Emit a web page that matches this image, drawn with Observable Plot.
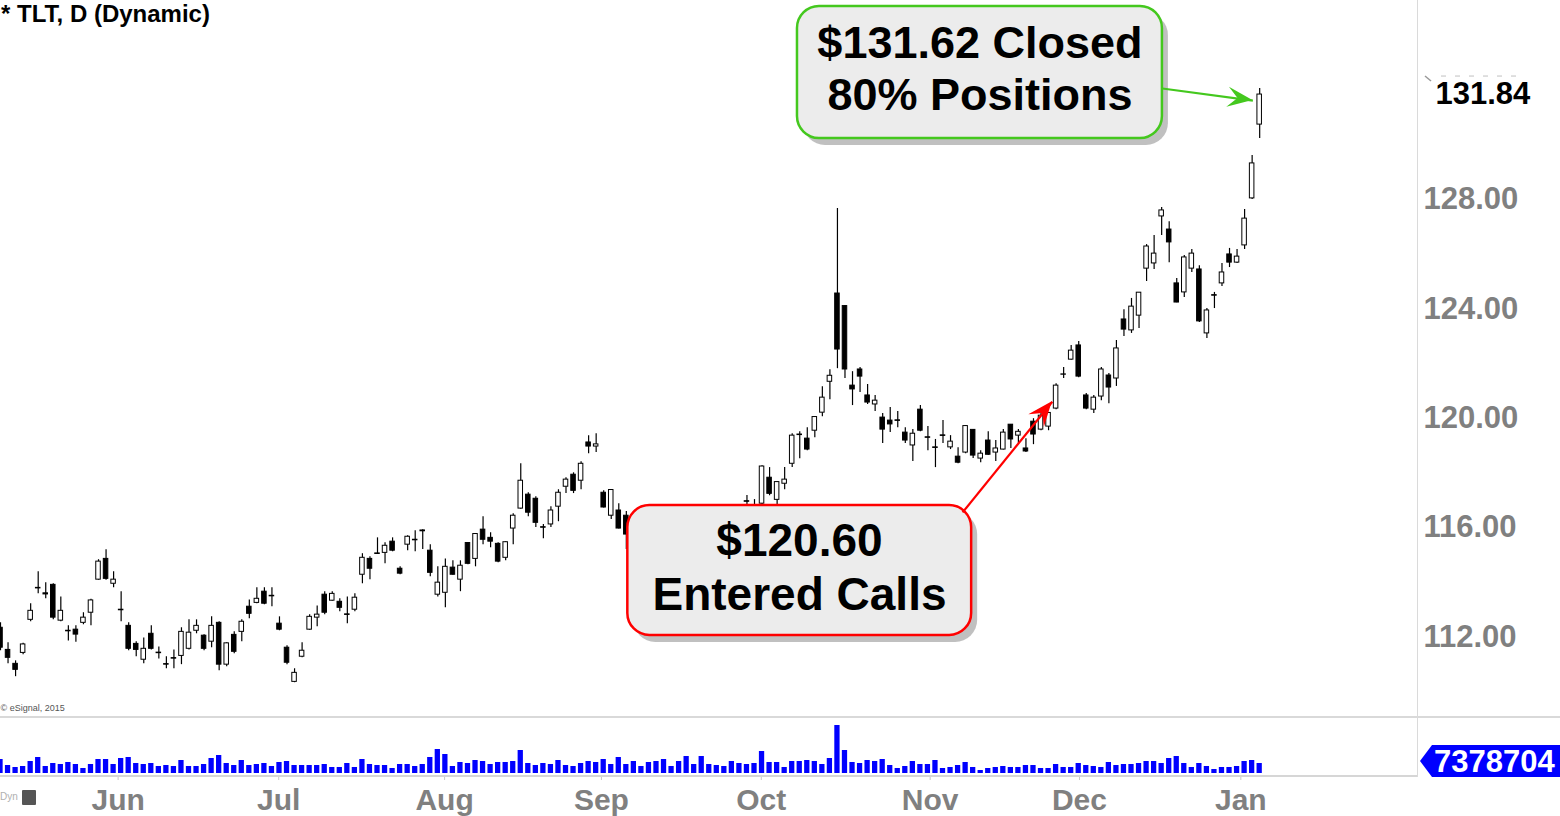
<!DOCTYPE html>
<html><head><meta charset="utf-8">
<script src="https://cdn.jsdelivr.net/npm/d3@7"></script>
<script src="https://cdn.jsdelivr.net/npm/@observablehq/plot@0.6"></script>
<style>
html,body{margin:0;padding:0;background:#fff;}
#wrap{position:relative;width:1560px;height:816px;overflow:hidden;font-family:"Liberation Sans",Arial,sans-serif;background:#fff;}
#wrap svg{position:absolute;left:0;}
</style></head><body><div id="wrap"></div>
<script>
// ---- data (daily candles, index 0..167) ----
const openP = [
112.33,111.52,111.01,111.41,112.62,113.79,113.59,113.90,112.59,112.22,
112.26,112.51,112.88,114.09,114.85,113.94,112.99,112.40,111.74,111.16,
112.11,111.42,111.00,111.22,111.30,111.56,112.22,112.04,111.82,112.51,
110.98,112.07,112.18,113.10,113.24,113.65,113.50,112.48,111.60,110.35,
111.27,112.26,112.70,113.54,113.32,113.28,112.82,112.99,114.27,114.85,
115.05,115.07,115.48,114.49,115.37,115.55,115.89,115.15,113.54,113.61,
114.53,114.09,115.43,114.85,115.92,115.62,115.40,114.89,115.96,116.69,
117.20,117.05,116.01,116.11,116.76,117.49,117.93,117.71,119.11,118.96,
117.27,116.43,116.62,116.43,116.39,115.30,114.90,114.50,114.70,114.10,
113.60,113.20,113.60,113.00,113.50,114.20,114.00,114.80,115.20,116.96,
116.60,116.87,117.82,117.01,117.60,118.33,119.40,119.25,119.54,120.20,
121.33,124.56,124.10,121.19,121.78,120.83,120.50,120.02,119.91,119.92,
119.47,119.00,120.31,119.30,118.93,119.37,118.93,118.59,118.74,119.57,
118.52,119.18,118.74,118.85,119.76,119.36,118.89,119.87,119.58,119.69,
120.35,121.60,122.14,122.66,120.83,120.31,120.79,121.56,121.45,123.61,
123.21,123.75,125.47,125.66,127.38,126.90,124.93,124.60,125.47,125.44,
123.10,124.50,124.93,125.99,125.69,126.32,128.04,130.74];
const highP = [
112.51,111.78,111.12,111.76,113.21,114.38,113.98,113.94,113.46,112.40,
112.40,112.88,113.37,114.82,115.18,114.38,113.65,112.51,111.82,111.96,
112.40,111.63,111.27,111.52,112.33,112.62,112.62,112.07,112.73,112.55,
111.78,112.18,112.62,113.35,113.79,113.79,113.79,112.73,111.67,110.83,
111.78,112.81,113.13,113.65,113.65,113.39,113.46,113.57,115.04,114.93,
115.62,115.44,115.62,114.56,115.70,115.88,115.92,115.37,114.56,114.85,
114.78,114.78,115.44,115.77,116.39,115.81,115.44,115.48,116.50,118.33,
117.27,117.12,116.11,116.76,117.38,117.82,118.00,118.40,119.36,119.43,
117.34,117.38,116.87,116.58,116.55,115.60,115.20,114.90,114.90,114.40,
113.90,113.80,113.90,113.70,114.40,114.60,115.00,115.40,116.00,117.17,
117.02,118.26,118.19,117.67,118.19,119.43,119.50,119.65,120.05,121.15,
121.77,127.67,124.12,121.70,121.85,121.23,120.83,120.17,120.39,120.24,
119.65,119.58,120.46,119.69,119.22,119.91,119.36,118.92,119.72,119.58,
118.81,119.50,119.18,119.58,119.77,119.58,119.25,119.98,120.17,120.20,
121.26,121.85,122.66,122.80,120.90,120.83,121.85,121.63,122.84,123.97,
124.38,124.60,126.35,126.68,127.71,127.19,125.11,125.95,126.17,125.58,
124.01,124.60,125.66,126.21,126.17,127.63,129.61,132.06];
const lowP = [
111.49,111.01,110.54,111.34,112.55,113.57,113.39,112.62,112.55,111.85,
111.80,112.44,112.40,114.07,114.07,113.79,112.55,111.49,111.27,111.01,
111.52,111.19,110.83,110.83,110.98,111.52,112.11,111.49,111.60,110.76,
110.90,111.38,111.82,112.66,113.21,113.17,113.10,112.22,110.98,110.32,
111.23,112.24,112.37,112.81,113.30,112.92,112.48,112.92,113.94,114.09,
115.01,114.67,115.11,114.27,115.15,115.11,115.19,114.20,113.46,113.06,
114.25,113.65,114.64,114.56,115.37,115.26,114.71,114.78,115.37,116.67,
116.39,116.00,115.59,116.00,116.21,117.24,117.24,117.38,118.70,118.74,
116.71,116.29,115.94,115.19,115.00,114.80,114.30,114.00,113.90,113.40,
113.00,112.90,112.80,112.70,113.30,113.80,113.80,114.50,115.00,116.50,
116.20,116.80,117.16,116.79,117.38,118.19,118.51,118.81,119.28,120.05,
120.67,121.81,121.45,120.46,120.94,120.50,120.24,119.07,119.47,119.65,
119.07,118.41,119.50,118.81,118.19,119.07,118.85,118.33,118.70,118.52,
118.37,118.63,118.41,118.83,118.89,119.07,118.74,119.03,119.54,119.54,
120.31,121.45,122.12,121.48,120.31,120.17,120.64,120.53,121.16,122.99,
123.10,123.28,125.00,125.44,126.68,125.69,124.22,124.41,125.33,123.50,
122.91,124.01,124.82,125.51,125.66,126.17,128.00,130.23];
const closeP = [
111.60,111.23,110.79,111.72,112.95,113.77,113.55,112.70,112.95,112.20,
112.08,112.70,113.33,114.75,114.12,114.09,112.97,111.56,111.52,111.56,
111.56,111.40,110.98,111.20,112.18,112.15,112.40,111.56,112.40,110.98,
111.76,111.45,112.55,112.84,113.39,113.21,113.48,112.26,111.05,110.68,
111.49,112.73,112.81,112.88,113.57,113.06,112.80,113.43,114.89,114.49,
115.03,115.33,115.15,114.31,115.66,115.53,115.86,114.34,113.98,114.56,
114.27,114.60,114.67,115.76,115.55,115.48,114.75,115.46,116.43,117.71,
116.54,116.17,115.99,116.62,117.27,117.75,117.34,118.33,118.96,119.04,
116.73,117.37,115.96,115.74,115.30,114.95,114.50,114.70,114.10,113.60,
113.20,113.60,113.00,113.50,114.20,114.00,114.80,115.20,115.70,116.94,
116.40,118.23,117.23,117.66,117.75,119.36,119.38,118.85,120.04,120.75,
121.55,122.51,121.78,121.05,121.52,120.57,120.64,119.58,119.77,119.90,
119.18,119.43,119.54,119.28,118.91,119.35,119.14,118.37,119.71,118.63,
118.70,118.66,118.89,119.47,119.22,119.50,118.78,119.40,120.09,120.19,
121.19,121.59,122.47,121.52,120.35,120.75,121.78,121.12,122.55,123.24,
124.08,124.59,126.28,126.02,127.60,126.43,124.23,125.88,126.02,123.54,
123.94,124.48,125.33,125.69,125.91,127.30,129.32,131.84];
// volume, millions of shares
const volumeM = [
10.33,5.90,4.43,5.17,8.85,11.81,5.17,7.38,6.64,8.12,
6.64,3.69,6.64,10.33,10.33,6.64,11.07,11.81,7.38,6.64,
7.38,5.17,5.90,5.17,9.59,5.17,5.17,6.64,11.07,13.28,
7.38,5.90,9.59,5.90,6.64,7.38,5.17,8.12,8.85,5.90,
5.90,5.90,5.90,6.64,4.43,4.43,7.38,4.43,10.33,6.64,
5.90,5.90,3.69,6.64,6.64,5.17,6.64,11.81,17.71,14.02,
5.17,8.12,7.38,9.59,8.85,6.64,8.12,8.12,8.85,16.97,
7.38,5.90,7.38,6.64,9.59,5.90,5.17,7.38,8.85,8.12,
10.33,6.64,11.81,6.64,8.85,5.17,8.12,8.85,10.33,5.17,
8.85,12.54,6.64,12.54,6.64,5.90,5.17,8.85,7.38,6.64,
7.38,16.23,8.12,8.12,4.43,8.85,8.85,9.59,8.85,6.64,
11.07,35.42,16.97,8.12,7.38,9.59,8.85,10.33,5.90,3.69,
5.17,8.85,6.64,6.64,9.59,3.69,4.43,5.90,8.12,4.43,
2.21,3.69,4.43,5.17,4.43,4.43,5.90,5.90,3.69,3.69,
6.64,4.43,4.43,7.38,5.90,5.17,4.43,8.12,5.90,6.64,
6.64,7.38,8.85,8.85,7.38,11.07,12.54,7.38,4.43,7.38,
5.17,2.95,4.43,4.43,5.17,8.85,9.59,7.378704];
const priceTicks = [112, 116, 120, 124, 128];
const monthLabels = ["Jun", "Jul", "Aug", "Sep", "Oct", "Nov", "Dec", "Jan"];
const monthTickPos = [15.6, 36.9, 58.9, 79.7, 100.9, 123.3, 143.1, 164.5];
const titleText = "* TLT, D (Dynamic)";
const copyrightText = "© eSignal, 2015";
const notes = [
  {text: "$131.62 Closed\n80% Positions", color: "#44c81e", x1: 105.7, x2: 154.1, y1: 130.23, y2: 135.06,
   tx: 129.9, ty: 132.85, size: 45, lh: 1.156, fromX: 154.1, fromY: 132.06, toX: 166.1, toY: 131.62},
  {text: "$120.60\nEntered Calls", color: "#ff0000", x1: 83.2, x2: 128.8, y1: 112.05, y2: 116.80,
   tx: 105.97, ty: 114.61, size: 46, lh: 1.174, fromX: 127.6, fromY: 116.55, toX: 139.5, toY: 120.60}
];

// ---- build ----
const candles = openP.map((o, i) => ({i, open: o, high: highP[i], low: lowP[i], close: closeP[i], volume: volumeM[i]}));
const W = 1560, FRAME_R = 1417, PX = 7.54;
const xDomain = [0, FRAME_R / PX];
const FONT = '"Liberation Sans", Arial, sans-serif';
const lastPrice = closeP[closeP.length - 1];

const noteMarks = notes.flatMap(n => [
  Plot.rect([n], {x1: "x1", x2: "x2", y1: "y1", y2: "y2", dx: 6, dy: 7, rx: 22, fill: "#8c8c8c", fillOpacity: 0.55, ariaLabel: "shadow"}),
  Plot.rect([n], {x1: "x1", x2: "x2", y1: "y1", y2: "y2", rx: 22, fill: "#ececec", stroke: n.color, strokeWidth: 2.5}),
  Plot.text([n], {x: "tx", y: "ty", text: "text", fontSize: n.size, lineHeight: n.lh, fontWeight: "bold", fill: "#000", fontFamily: FONT}),
  Plot.link([n], {x1: "fromX", y1: "fromY", x2: "toX", y2: "toY", stroke: n.color, strokeWidth: 2.2})
]);

const price = Plot.plot({
  width: W, height: 718, marginLeft: 0, marginRight: W - FRAME_R, marginTop: 0, marginBottom: 0,
  x: {domain: xDomain, axis: null},
  y: {domain: [109.01, 135.281], axis: null},
  style: {fontFamily: FONT, background: "transparent", overflow: "visible"},
  marks: [
    Plot.ruleX(candles, {x: "i", y1: "low", y2: "high", stroke: "#000", strokeWidth: 1.2}),
    Plot.rect(candles, {filter: d => d.close >= d.open, x1: d => d.i - 0.3, x2: d => d.i + 0.3, y1: "open", y2: "close", fill: "#fff", stroke: "#000", strokeWidth: 1}),
    Plot.rect(candles, {filter: d => d.close < d.open, x1: d => d.i - 0.3, x2: d => d.i + 0.3, y1: "open", y2: "close", fill: "#000", stroke: "#000", strokeWidth: 1}),
    Plot.axisY({anchor: "right", ticks: priceTicks, tickFormat: d => d.toFixed(2), tickSize: 0, tickPadding: 6, fontSize: 31, fontWeight: "bold", color: "#808080"}),
    Plot.text([lastPrice], {y: d => d, frameAnchor: "right", dx: 18, textAnchor: "start", text: d => d.toFixed(2), fontSize: 31, fontWeight: "bold", fill: "#000"}),
    Plot.text([copyrightText], {frameAnchor: "bottom-left", dy: -8, textAnchor: "start", text: d => d, fontSize: 9, fill: "#555"}),
    ...noteMarks
  ]
});

const vol = Plot.plot({
  width: W, height: 98, marginLeft: 0, marginRight: W - FRAME_R, marginTop: 0, marginBottom: 40,
  x: {domain: xDomain},
  y: {domain: [0, 40.59], range: [55, 0], axis: null},
  style: {fontFamily: FONT, background: "transparent", overflow: "visible"},
  marks: [
    Plot.rect(candles, {x1: d => d.i - 0.35, x2: d => d.i + 0.35, y1: 0, y2: "volume", fill: "#0000ff"}),
    Plot.axisX({ticks: monthTickPos, tickFormat: d => monthLabels[monthTickPos.indexOf(d)], tickSize: 4, tickPadding: 8, fontSize: 30, fontWeight: "bold", color: "#808080"})
  ]
});

const wrap = document.getElementById("wrap");
price.style.top = "0px";
vol.style.top = "718px";
wrap.append(price, vol);

// post styling
const psvg = d3.select(price);
psvg.selectAll('g[aria-label="y-axis tick label"]').attr("font-weight", "bold");
const defs = psvg.insert("defs", ":first-child");
defs.append("filter").attr("id", "blurSh").attr("x", "-10%").attr("y", "-10%").attr("width", "125%").attr("height", "135%")
  .append("feGaussianBlur").attr("stdDeviation", 3.5);
psvg.selectAll('g[aria-label="shadow"] rect, g[aria-label="shadow"] path').attr("filter", "url(#blurSh)");
const xs = price.scale("x"), ys = price.scale("y");
notes.forEach(n => {
  const x1 = xs.apply(n.fromX), y1 = ys.apply(n.fromY), x2 = xs.apply(n.toX), y2 = ys.apply(n.toY);
  const dx = x2 - x1, dy = y2 - y1, L = Math.hypot(dx, dy), ux = dx / L, uy = dy / L, px = -uy, py = ux;
  const len = 25, half = 10;
  const bx = x2 - ux * len, by = y2 - uy * len, nx = x2 - ux * len * 0.6, ny = y2 - uy * len * 0.6;
  psvg.append("path").attr("d", `M${x2},${y2}L${bx + px * half},${by + py * half}L${nx},${ny}L${bx - px * half},${by - py * half}Z`).attr("fill", n.color);
});
// small marker before the last-price label
const lp = ys.apply(lastPrice);
psvg.append("path").attr("d", `M${FRAME_R + 8},${lp - 18}L${FRAME_R + 14},${lp - 13}`).attr("stroke", "#999").attr("stroke-width", 1.5);
psvg.append("line").attr("x1", FRAME_R + 24).attr("x2", FRAME_R + 102).attr("y1", lp - 18).attr("y2", lp - 18)
  .attr("stroke", "#c0c0c0").attr("stroke-width", 1).attr("stroke-dasharray", "5,9");
const vsvg = d3.select(vol);
vsvg.selectAll('g[aria-label="x-axis tick label"]').attr("font-weight", "bold");
vsvg.selectAll('g[aria-label="x-axis tick"]').attr("stroke", "#c8c8c8");
// last volume label
const last = candles[candles.length - 1];
const vy = vol.scale("y").apply(last.volume) - 2;
vsvg.append("path").attr("d", `M${FRAME_R + 3},${vy}L${FRAME_R + 15},${vy - 16}L${W},${vy - 16}L${W},${vy + 16}L${FRAME_R + 15},${vy + 16}Z`).attr("fill", "#0000ff");
vsvg.append("text").attr("x", FRAME_R + 17).attr("y", vy).attr("dy", "0.36em").attr("fill", "#fff")
  .attr("font-size", 31).attr("font-weight", "bold").attr("text-anchor", "start").attr("font-family", FONT)
  .text(String(Math.round(last.volume * 1e6)));

// chrome lines & labels
function div(css, text) { const d = document.createElement("div"); d.style.cssText = css; if (text) d.textContent = text; wrap.append(d); return d; }
div("position:absolute;left:0;top:716px;width:1560px;height:2px;background:#d9d9d9;");
div("position:absolute;left:1417px;top:0;width:1px;height:777px;background:#dadada;");
div("position:absolute;left:0;top:775px;width:1417px;height:2px;background:#d6d6d6;");
div("position:absolute;left:1px;top:2px;font:bold 24px/24px " + FONT + ";color:#000;white-space:pre;", titleText);
div("position:absolute;left:0;top:791px;font:10px/12px " + FONT + ";color:#b0b0b0;", "Dyn");
div("position:absolute;left:22px;top:790px;width:14px;height:15px;background:#555;border-radius:1px;");
</script></body></html>
